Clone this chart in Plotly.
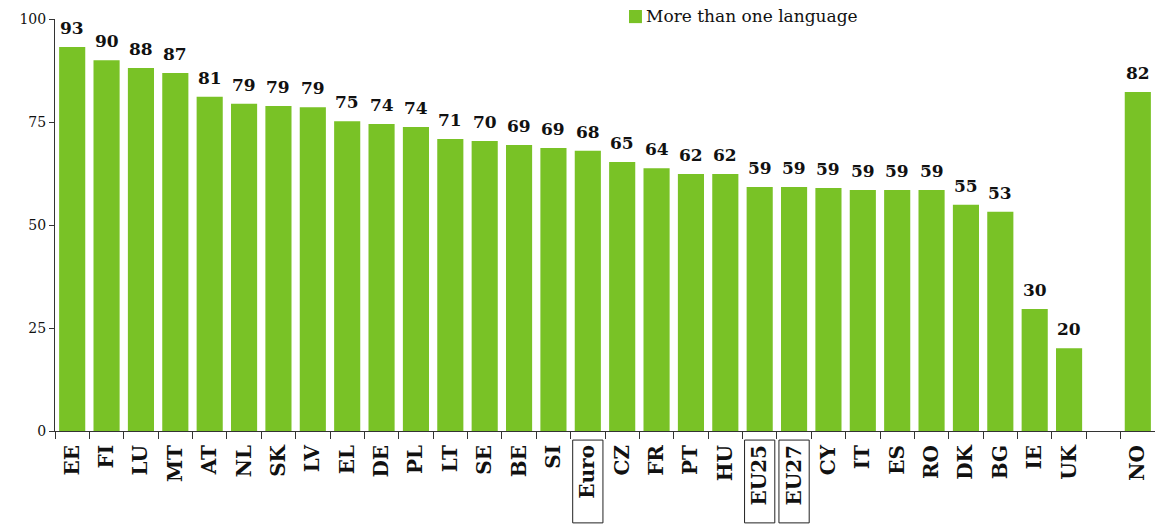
import plotly.graph_objects as go

categories = ["EE", "FI", "LU", "MT", "AT", "NL", "SK", "LV", "EL", "DE", "PL", "LT",
              "SE", "BE", "SI", "Euro", "CZ", "FR", "PT", "HU", "EU25", "EU27", "CY",
              "IT", "ES", "RO", "DK", "BG", "IE", "UK", " ", "NO"]
values = [93.2, 90.0, 88.1, 86.9, 81.1, 79.4, 78.9, 78.6, 75.2, 74.5, 73.8, 70.9,
          70.4, 69.4, 68.7, 68.0, 65.3, 63.8, 62.4, 62.4, 59.2, 59.2, 59.0,
          58.5, 58.5, 58.5, 54.9, 53.2, 29.6, 20.1, None, 82.3]
labels = ["93", "90", "88", "87", "81", "79", "79", "79", "75", "74", "74", "71",
          "70", "69", "69", "68", "65", "64", "62", "62", "59", "59", "59",
          "59", "59", "59", "55", "53", "30", "20", "", "82"]
boxed = ["Euro", "EU25", "EU27"]
series_name = "More than one language"
y_ticks = [0, 25, 50, 75, 100]

GREEN = "#79c226"
FONT = "DejaVu Serif"
TXT = "#111111"

fig = go.Figure()
fig.add_trace(go.Bar(
    x=categories, y=values, name=series_name,
    marker=dict(color=GREEN, line=dict(width=0)),
    showlegend=False,
))

for c, v, t in zip(categories, values, labels):
    if v is None:
        continue
    fig.add_annotation(x=c, y=v, text="<b>%s</b>" % t, showarrow=False,
                       yanchor="bottom", yshift=7,
                       font=dict(family=FONT, size=17, color=TXT))

for b in boxed:
    i = categories.index(b)
    fig.add_shape(type="rect", xref="x", yref="paper",
                  x0=i - 0.44, x1=i + 0.44, y0=-0.223, y1=-0.022,
                  line=dict(color="#222222", width=1), fillcolor="rgba(0,0,0,0)")

# legend (manual: swatch + text)
fig.add_shape(type="rect", xref="paper", yref="paper",
              x0=0.5218, x1=0.5336, y0=0.990, y1=1.0218,
              line=dict(width=0), fillcolor=GREEN)
fig.add_annotation(xref="paper", yref="paper", x=0.5355, y=1.0073,
                   xanchor="left", yanchor="middle", showarrow=False,
                   text=series_name, font=dict(family=FONT, size=17, color=TXT))

fig.update_layout(
    width=1155, height=524,
    margin=dict(l=55, r=0, t=19, b=93, autoexpand=False),
    paper_bgcolor="white", plot_bgcolor="white",
    bargap=0.24,
    font=dict(family=FONT, color=TXT),
    showlegend=False,
    xaxis=dict(
        type="category", tickangle=-90, showline=True, linecolor="#333333",
        linewidth=1, ticks="outside", ticklen=7, tickcolor="#333333",
        tickson="boundaries", ticklabelstandoff=5,
        tickvals=categories,
        ticktext=["<b>%s</b>" % c for c in categories],
        tickfont=dict(family=FONT, size=20, color=TXT),
        showgrid=False, range=[-0.5, len(categories) - 0.5],
    ),
    yaxis=dict(
        range=[0, 100], tickvals=y_ticks, showline=True, linecolor="#333333",
        linewidth=1, ticks="outside", ticklen=5, tickcolor="#333333",
        tickfont=dict(family=FONT, size=14, color=TXT),
        showgrid=False, zeroline=False,
    ),
)

fig.write_html("out.html",
               config={"displayModeBar": False},
               post_script="document.body.style.margin='0';document.body.style.overflow='hidden';")
